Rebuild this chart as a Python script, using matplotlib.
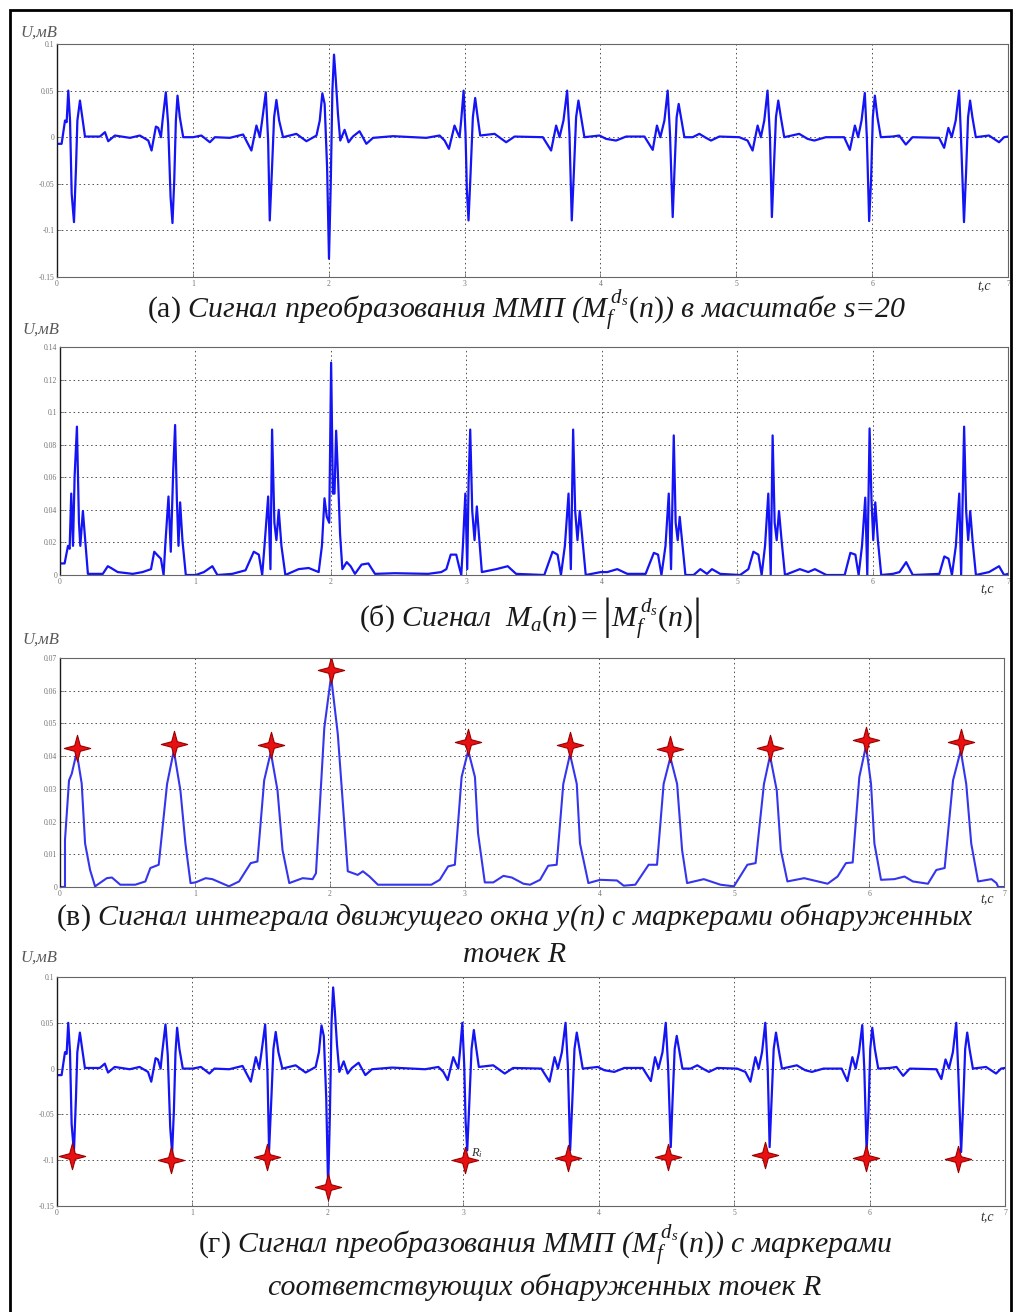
import numpy as np
import matplotlib
matplotlib.use("Agg")
from matplotlib import pyplot as plt
from matplotlib.patches import Rectangle
from matplotlib.path import Path
from matplotlib.ticker import FuncFormatter

plt.rcParams['font.family'] = ['Liberation Serif', 'DejaVu Serif']
plt.rcParams['mathtext.fontset'] = 'custom'
plt.rcParams['mathtext.rm'] = 'Liberation Serif'
plt.rcParams['mathtext.it'] = 'Liberation Serif:italic'
plt.rcParams['mathtext.bf'] = 'Liberation Serif:bold'

# wavelet transform signal M_f (mV), vertices
mf_t = [0.0, 0.034, 0.059, 0.071, 0.083, 0.096, 0.108, 0.125, 0.14, 0.15, 0.169, 0.186, 0.206,
        0.316, 0.353, 0.377, 0.426, 0.537, 0.61, 0.672, 0.696, 0.728, 0.745, 0.765, 0.777,
        0.801, 0.818, 0.836, 0.85, 0.863, 0.875, 0.887, 0.904, 0.929, 1.002, 1.063, 1.125,
        1.162, 1.272, 1.37, 1.431, 1.468, 1.493, 1.51, 1.537, 1.554, 1.566, 1.583, 1.598,
        1.615, 1.635, 1.664, 1.762, 1.836, 1.91, 1.934, 1.953, 1.97, 1.988, 2.002, 2.015,
        2.027, 2.039, 2.051, 2.068, 2.085, 2.117, 2.146, 2.178, 2.227, 2.277, 2.326, 2.473,
        2.718, 2.816, 2.853, 2.885, 2.926, 2.946, 2.963, 2.975, 2.993, 3.007, 3.017, 3.029,
        3.044, 3.061, 3.078, 3.093, 3.115, 3.221, 3.306, 3.368, 3.576, 3.637, 3.674, 3.699,
        3.728, 3.755, 3.772, 3.789, 3.804, 3.821, 3.838, 3.858, 3.882, 3.993, 4.042, 4.115,
        4.189, 4.324, 4.385, 4.416, 4.441, 4.471, 4.495, 4.512, 4.532, 4.546, 4.561, 4.576,
        4.593, 4.618, 4.679, 4.728, 4.777, 4.814, 4.875, 5.022, 5.083, 5.12, 5.157, 5.181,
        5.206, 5.23, 5.248, 5.262, 5.277, 5.292, 5.309, 5.328, 5.353, 5.463, 5.525, 5.574,
        5.659, 5.794, 5.836, 5.873, 5.897, 5.922, 5.946, 5.961, 5.978, 5.992, 6.005, 6.02,
        6.039, 6.064, 6.15, 6.199, 6.248, 6.297, 6.493, 6.53, 6.561, 6.586, 6.615, 6.64,
        6.654, 6.676, 6.691, 6.706, 6.721, 6.738, 6.763, 6.86, 6.934, 6.971, 7.0]
mf_u = [-0.0071, -0.0071, 0.0179, 0.0161, 0.05, 0.0179, -0.0607, -0.0911, -0.0321, 0.0179, 0.0393, 0.0214, 0.0007,
        0.0007, 0.0054, -0.0043, 0.0018, -0.0007, 0.0018, -0.0036, -0.0143, 0.0114, 0.01, 0.0, 0.0179,
        0.0482, 0.0143, -0.0643, -0.0921, -0.0464, 0.0179, 0.0446, 0.0214, 0.0, 0.0, 0.0018, -0.0054,
        0.0, -0.0007, 0.0029, -0.0143, 0.0125, 0.0, 0.0179, 0.0482, -0.0036, -0.0893, -0.0321, 0.0214,
        0.04, 0.0179, 0.0, 0.0036, -0.0043, 0.0018, 0.0179, 0.0471, 0.0357, -0.0321, -0.1304, -0.05,
        0.05, 0.0886, 0.0643, 0.025, -0.0036, 0.0079, -0.0054, 0.0007, 0.0064, -0.0071, -0.0007, 0.0011,
        -0.0007, 0.0018, -0.0036, -0.0125, 0.0125, 0.0054, 0.0, 0.0179, 0.05, 0.0036, -0.0571, -0.0893,
        -0.0393, 0.0214, 0.0421, 0.025, 0.0018, 0.0036, -0.0054, 0.0007, 0.0, -0.0143, 0.0125, 0.0,
        0.0179, 0.05, 0.0036, -0.0893, -0.0393, 0.0214, 0.0393, 0.0214, 0.0, 0.0018, -0.0018, -0.0036,
        0.0007, 0.0007, -0.0136, 0.0125, 0.0, 0.0179, 0.05, 0.0036, -0.0857, -0.0321, 0.0214, 0.0357,
        0.0214, 0.0, 0.0, 0.0036, -0.0007, -0.0036, 0.0007, 0.0, -0.0036, -0.0143, 0.0125, 0.0,
        0.0179, 0.05, 0.0, -0.0857, -0.0321, 0.0214, 0.0393, 0.0214, 0.0, 0.0036, -0.0018, -0.0036,
        0.0, 0.0, -0.0136, 0.0125, 0.0, 0.0179, 0.0475, 0.0, -0.09, -0.0464, 0.0214, 0.0446,
        0.0214, 0.0, 0.0007, 0.0018, -0.0079, 0.0, -0.0007, -0.0114, 0.01, 0.0, 0.0179, 0.05,
        0.0, -0.0911, -0.0393, 0.0214, 0.0393, 0.0214, 0.0, 0.0018, -0.0054, 0.0, 0.0007]

# moving window integral y(n)
yi_t = [0.0, 0.037, 0.037, 0.067, 0.087, 0.124, 0.161, 0.186, 0.223, 0.26, 0.347, 0.385, 0.447,
        0.558, 0.633, 0.67, 0.732, 0.794, 0.844, 0.893, 0.93, 0.968, 1.005, 1.08, 1.13, 1.253,
        1.328, 1.414, 1.464, 1.514, 1.563, 1.613, 1.65, 1.7, 1.8, 1.873, 1.898, 1.96, 2.01, 2.06,
        2.11, 2.134, 2.208, 2.246, 2.295, 2.357, 2.754, 2.816, 2.878, 2.928, 2.978, 3.027, 3.077,
        3.1, 3.15, 3.213, 3.288, 3.35, 3.437, 3.486, 3.56, 3.62, 3.683, 3.732, 3.782, 3.832, 3.856,
        3.918, 4.005, 4.13, 4.18, 4.266, 4.365, 4.427, 4.476, 4.526, 4.576, 4.613, 4.65, 4.774,
        4.898, 4.997, 5.097, 5.158, 5.22, 5.265, 5.315, 5.345, 5.394, 5.518, 5.692, 5.766, 5.828,
        5.878, 5.927, 5.977, 6.014, 6.039, 6.088, 6.187, 6.262, 6.324, 6.436, 6.498, 6.56, 6.622,
        6.679, 6.72, 6.757, 6.808, 6.907, 6.944, 6.957, 7.0]
yi_u = [0.0, 0.0, 0.0144, 0.0326, 0.0346, 0.0412, 0.0316, 0.0133, 0.0052, 0.0002, 0.0027, 0.0029, 0.0007,
        0.0007, 0.0017, 0.0058, 0.0068, 0.0315, 0.0417, 0.0295, 0.0133, 0.0012, 0.0014, 0.0027, 0.0024, 0.0002,
        0.0017, 0.0073, 0.0078, 0.0326, 0.0412, 0.0295, 0.0113, 0.0012, 0.0027, 0.0024, 0.0042, 0.0487, 0.0644, 0.0467,
        0.0184, 0.0048, 0.0037, 0.0048, 0.0032, 0.0007, 0.0007, 0.0022, 0.0063, 0.0068, 0.0336, 0.0417, 0.0336,
        0.0164, 0.0014, 0.0014, 0.0034, 0.0029, 0.001, 0.0007, 0.0022, 0.0065, 0.0068, 0.0315, 0.0406, 0.0315, 0.0133,
        0.0012, 0.0022, 0.002, 0.0004, 0.0007, 0.0068, 0.0068, 0.0315, 0.0396, 0.0315, 0.0113, 0.0012, 0.0024,
        0.0007, 0.0002, 0.0068, 0.0073, 0.0315, 0.0401, 0.0295, 0.0113, 0.0017, 0.0027, 0.001, 0.0032, 0.0073,
        0.0075, 0.0336, 0.0432, 0.0315, 0.0133, 0.0022, 0.0024, 0.0032, 0.0017, 0.001, 0.0052, 0.0058, 0.0326,
        0.0417, 0.0315, 0.0133, 0.0017, 0.0024, 0.0012, 0.0, 0.0]

# detected R points
peak_t = [0.124, 0.844, 1.563, 2.01, 3.027, 3.782, 4.526, 5.265, 5.977, 6.679]
peak_u = [0.0424, 0.0437, 0.0435, 0.0664, 0.0442, 0.0434, 0.0422, 0.0424, 0.0449, 0.0444]
r_t = [0.108, 0.839, 1.547, 2.0, 3.01, 3.77, 4.51, 5.23, 5.97, 6.65]
r_u = [-0.0955, -0.0993, -0.097, -0.129, -0.1, -0.098, -0.097, -0.094, -0.098, -0.099]

x_ticks = [0, 1, 2, 3, 4, 5, 6, 7]
yticks_a = [-0.15, -0.1, -0.05, 0, 0.05, 0.1]
yticks_b = [0, 0.02, 0.04, 0.06, 0.08, 0.1, 0.12, 0.14]
yticks_c = [0, 0.01, 0.02, 0.03, 0.04, 0.05, 0.06, 0.07]

captions = [
    r'$\mathrm{(а)}$ Сигнал преобразования ММП ($M_f^{\,d_s}(n)$) в масштабе s=20',
    r'$\mathrm{(б)}$ Сигнал  $M_a(n) = \left|M_f^{\,d_s}(n)\right|$',
    r'$\mathrm{(в)}$ Сигнал интеграла движущего окна y(n) с маркерами обнаруженных',
    'точек R',
    r'$\mathrm{(г)}$ Сигнал преобразования ММП ($M_f^{\,d_s}(n)$) с маркерами',
    'соответствующих обнаруженных точек R',
]

W, H = 1018, 1312
fig = plt.figure(figsize=(W / 100, H / 100), dpi=100)

# four-pointed star marker
ang = np.arange(8) * np.pi / 4 + np.pi / 2
rad = np.where(np.arange(8) % 2 == 0, 1.0, 0.3)
star = Path(np.column_stack([rad * np.cos(ang), rad * np.sin(ang)]).tolist() + [[0, 1]],
            closed=True)


def box(l, t, r, b):
    return [l / W, 1 - b / H, (r - l) / W, (b - t) / H]


def px(x, y):
    return x / W, 1 - y / H


def style_axes(ax, yticks, ylim):
    ax.set_xlim(0, 7)
    ax.set_ylim(*ylim)
    ax.set_xticks(x_ticks)
    ax.set_yticks(yticks)
    ax.yaxis.set_major_formatter(FuncFormatter(lambda v, p: '%g' % v))
    ax.tick_params(labelsize=5.5, colors='0.45', direction='in', length=3, width=0.6, pad=2)
    ax.grid(True, linestyle=(0, (1.5, 3)), color='0.3', linewidth=0.7)
    for s in ['top', 'right', 'bottom']:
        ax.spines[s].set_color('0.4')
        ax.spines[s].set_linewidth(0.8)
    ax.spines['left'].set_color('0.1')
    ax.spines['left'].set_linewidth(1.0)


blue = '#1414f5'
mk = dict(linestyle='none', marker=star, markersize=19, markerfacecolor='#e81010',
          markeredgecolor='#9a0000', markeredgewidth=0.8)

ax1 = fig.add_axes(box(57, 44, 1008, 277))
ax1.plot(mf_t, mf_u, color=blue, lw=1.6)
style_axes(ax1, yticks_a, (-0.15, 0.1))

ax2 = fig.add_axes(box(60, 347, 1008, 575))
ax2.plot(mf_t, np.abs(mf_u), color=blue, lw=1.6)
style_axes(ax2, yticks_b, (0, 0.14))

ax3 = fig.add_axes(box(60, 658, 1004, 887))
ax3.plot(yi_t, yi_u, color='#3535ee', lw=1.5)
ax3.plot(peak_t, peak_u, **mk)
style_axes(ax3, yticks_c, (0, 0.07))

ax4 = fig.add_axes(box(57, 977, 1005, 1206))
ax4.plot(mf_t, mf_u, color=blue, lw=1.6)
ax4.plot(r_t, r_u, **mk)
style_axes(ax4, yticks_a, (-0.15, 0.1))
ax4.text(r_t[4] + 0.05, r_u[4] + 0.004, r'$R_i$', fontsize=9, color='0.2')

# axis labels
for (x, y) in [(20, 33), (22, 330), (22, 640), (20, 958)]:
    fig.text(*px(x, y), 'U,мВ', fontsize=12, style='italic', color='0.35', va='center')
for (x, y) in [(977, 287), (980, 590), (980, 900), (980, 1218)]:
    fig.text(*px(x, y), 't,c', fontsize=10, style='italic', color='0.2', va='center')

# captions
cap_pos = [(527, 310), (530, 619), (515, 917), (515, 955), (545, 1245), (545, 1287)]
for txt, (x, y) in zip(captions, cap_pos):
    fig.text(*px(x, y), txt, fontsize=21.5, style='italic', ha='center', va='center', color='0.1')

# outer frame
fig.add_artist(Rectangle((10 / W, -0.05), 1001 / W, 1 - 10 / H + 0.05,
                         transform=fig.transFigure, fill=False, edgecolor='black', linewidth=2))

fig.savefig('out.png', dpi=100)
